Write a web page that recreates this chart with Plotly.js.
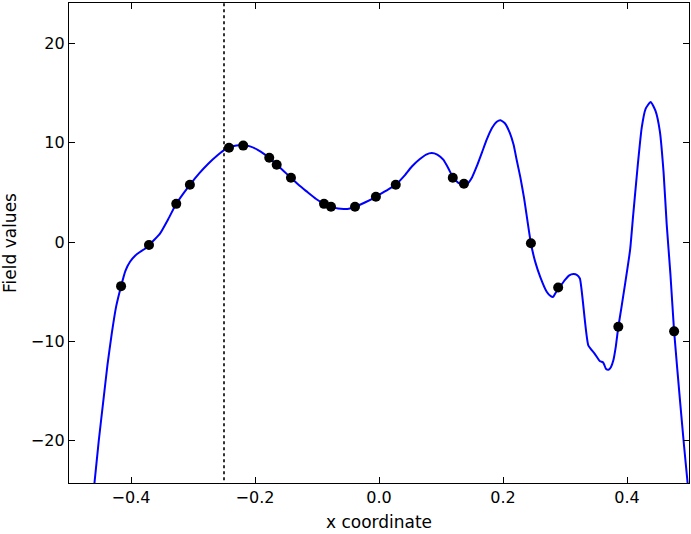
<!DOCTYPE html>
<html>
<head>
<meta charset="utf-8">
<script src="https://cdn.plot.ly/plotly-3.0.1.min.js"></script>
<style>html,body{margin:0;padding:0;background:#fff;}#chart{width:691px;height:534px;}</style>
</head>
<body>
<div id="chart"></div>
<script>
// Field curve
var curveX = [-0.462,-0.459,-0.452,-0.4446,-0.438,-0.431,-0.424,-0.416,-0.409,-0.4016,-0.393,-0.385,-0.378,-0.371,-0.362,-0.353,-0.340,-0.327,-0.316,-0.305,-0.29,-0.275,-0.26,-0.25,-0.242,-0.23,-0.219,-0.208,-0.195,-0.185,-0.177,-0.165,-0.153,-0.142,-0.128,-0.115,-0.102,-0.0887,-0.0774,-0.066,-0.055,-0.047,-0.0387,-0.022,-0.005,0.011,0.027,0.04,0.053,0.066,0.076,0.085,0.094,0.1037,0.112,0.119,0.128,0.137,0.1415,0.15,0.1576,0.166,0.1737,0.182,0.19,0.196,0.203,0.211,0.217,0.222,0.228,0.234,0.245,0.252,0.26,0.2705,0.277,0.281,0.285,0.292,0.300,0.307,0.3135,0.319,0.324,0.3376,0.348,0.3565,0.3608,0.363,0.366,0.37,0.374,0.378,0.382,0.386,0.391,0.397,0.405,0.410,0.417,0.4237,0.430,0.4382,0.446,0.453,0.459,0.464,0.470,0.476,0.4855,0.492,0.498,0.501];
var curveY = [-26.0,-24.3,-20.0,-15.96,-12.4,-9.2,-6.5,-4.44,-2.9,-1.99,-1.35,-0.98,-0.70,-0.30,0.25,0.87,2.3,3.84,4.85,5.76,6.9,7.9,8.75,9.25,9.49,9.7,9.75,9.62,9.25,8.85,8.48,7.78,7.1,6.46,5.65,5.0,4.35,3.84,3.54,3.36,3.32,3.38,3.54,4.0,4.55,5.15,5.76,6.6,7.6,8.35,8.8,8.96,8.8,8.28,7.4,6.55,5.95,5.75,5.8,6.5,7.6,9.0,10.3,11.45,12.1,12.25,11.95,10.98,9.8,8.28,6.5,4.41,-0.13,-2.0,-3.5,-5.0,-5.45,-5.52,-5.1,-4.5,-3.8,-3.35,-3.23,-3.3,-3.67,-10.4,-11.25,-12.0,-12.09,-12.3,-12.75,-12.86,-12.6,-11.9,-10.5,-8.55,-6.6,-4.18,-0.8,2.73,7.5,11.48,13.4,14.1,13.2,11.14,7.0,1.8,-3.2,-8.99,-15.96,-20.5,-24.4,-26.5];

// Sample points
var pointX = [-0.416,-0.371,-0.327,-0.305,-0.242,-0.219,-0.177,-0.165,-0.142,-0.0887,-0.0774,-0.0387,-0.005,0.027,0.119,0.137,0.245,0.289,0.386,0.476];
var pointY = [-4.44,-0.30,3.84,5.76,9.49,9.70,8.48,7.78,6.46,3.84,3.54,3.54,4.55,5.76,6.46,5.86,-0.13,-4.58,-8.52,-8.99];

// Vertical marker position
var markerX = [-0.25];

var xTickVals = [-0.4,-0.2,0.0,0.2,0.4];
var xTickText = ["\u22120.4","\u22120.2","0.0","0.2","0.4"];
var yTickVals = [-20,-10,0,10,20];
var yTickText = ["\u221220","\u221210","0","10","20"];

var font = {family: "DejaVu Sans, sans-serif", size: 16, color: "#000"};
var titleFont = {family: "DejaVu Sans, sans-serif", size: 17, color: "#000"};

var traces = [
  {x: curveX, y: curveY, mode: "lines", type: "scatter",
   line: {color: "#0000ff", width: 2, shape: "spline", smoothing: 0.5}, hoverinfo: "skip", showlegend: false},
  {x: [markerX[0], markerX[0]], y: [-30, 30], mode: "lines", type: "scatter",
   line: {color: "#000", width: 1.6, dash: "dot"}, showlegend: false},
  {x: pointX, y: pointY, mode: "markers", type: "scatter",
   marker: {color: "#000", size: 10}, showlegend: false}
];

var axisCommon = {
  showgrid: false, zeroline: false, showline: true, linecolor: "#000", linewidth: 1.2,
  mirror: "ticks", ticks: "inside", ticklen: 6, tickwidth: 1, tickcolor: "#000",
  tickfont: font
};

var layout = {
  width: 691, height: 534,
  margin: {l: 69, r: 2, t: 3, b: 51},
  paper_bgcolor: "#fff", plot_bgcolor: "#fff",
  font: font,
  showlegend: false,
  xaxis: Object.assign({}, axisCommon, {
    range: [-0.5, 0.5], tickvals: xTickVals, ticktext: xTickText,
    title: {text: "x coordinate", font: titleFont, standoff: 9}
  }),
  yaxis: Object.assign({}, axisCommon, {
    range: [-24.25, 24.05], tickvals: yTickVals, ticktext: yTickText,
    title: {text: "Field values", font: titleFont, standoff: 10}
  })
};

Plotly.newPlot("chart", traces, layout, {displayModeBar: false, staticPlot: true});
</script>
</body>
</html>
